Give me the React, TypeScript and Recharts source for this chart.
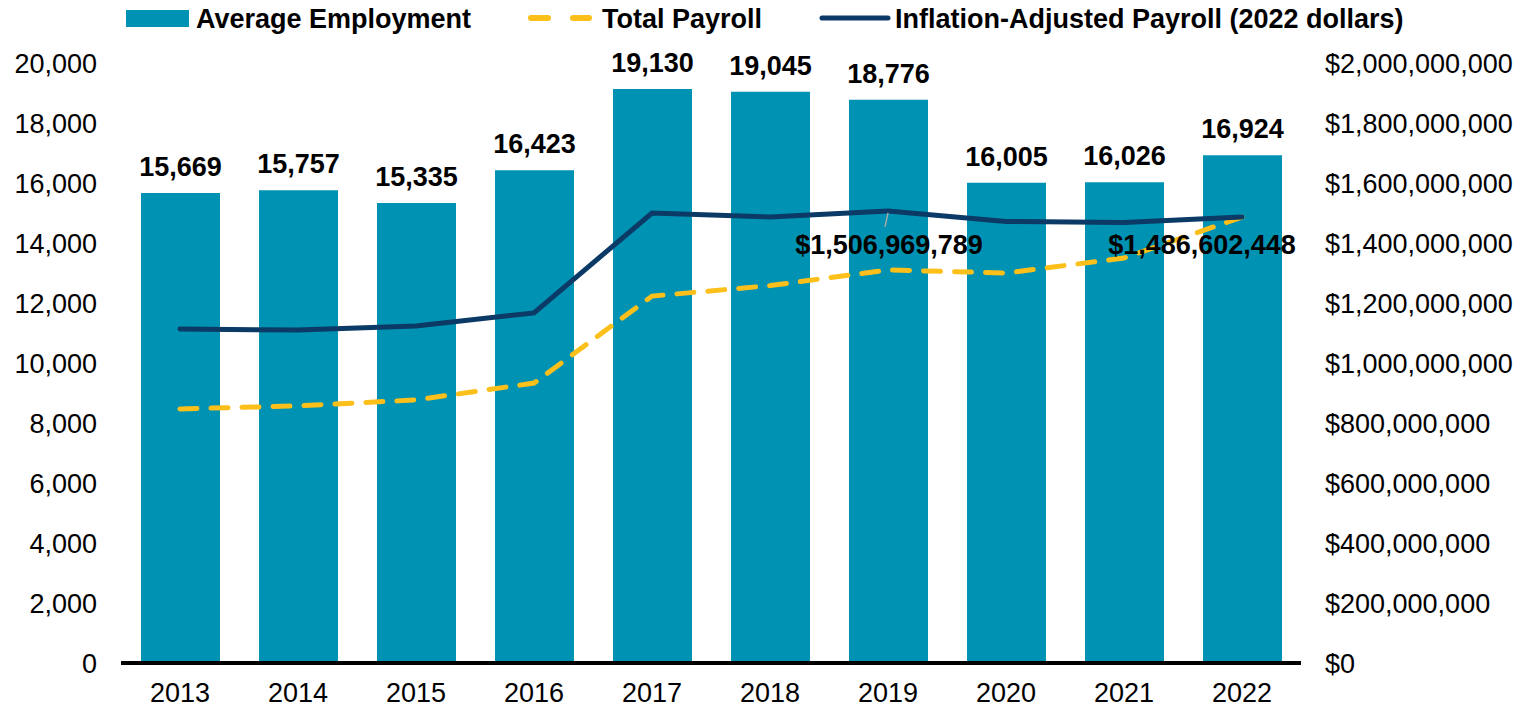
import React from 'react';
import { Bar, ComposedChart, LabelList, Line, XAxis, YAxis } from 'recharts';

const years = ['2013', '2014', '2015', '2016', '2017', '2018', '2019', '2020', '2021', '2022'];
const avgEmployment = [15669, 15757, 15335, 16423, 19130, 19045, 18776, 16005, 16026, 16924];
const totalPayroll = [847e6, 857e6, 877e6, 933e6, 1223e6, 1258e6, 1310e6, 1300e6, 1350e6, 1486602448];
const adjustedPayroll = [1113e6, 1110e6, 1123e6, 1167e6, 1500e6, 1487e6, 1506969789, 1472e6, 1468e6, 1486602448];
const leftTicks = [0, 2000, 4000, 6000, 8000, 10000, 12000, 14000, 16000, 18000, 20000];
const rightTicks = [0, 2e8, 4e8, 6e8, 8e8, 1e9, 1.2e9, 1.4e9, 1.6e9, 1.8e9, 2e9];

const data = years.map((year, i) => ({
  year,
  employment: avgEmployment[i],
  total: totalPayroll[i],
  adjusted: adjustedPayroll[i],
}));

const FONT = '"Liberation Sans", Arial, sans-serif';
const TEAL = '#0092B3';
const NAVY = '#0B3A66';
const GOLD = '#FDBF1A';

const fmt = (v: number) => v.toLocaleString('en-US');
const money = (v: number) => '$' + v.toLocaleString('en-US');

const BarLabel = (props: any) => {
  const { x, y, width, value } = props;
  return (
    <text x={x + width / 2} y={y - 17} textAnchor="middle" fontFamily={FONT} fontSize={27} fontWeight="bold" fill="#000">
      {fmt(value)}
    </text>
  );
};

// which point of which line gets a callout, and where the text sits
const makeLineLabel = (showIndex: number, dx: number, baseline: number, leader: boolean) => (props: any) => {
  const { x, y, value, index } = props;
  if (index !== showIndex) return null;
  return (
    <g>
      {leader && <line x1={x} y1={y + 2} x2={x - 3} y2={y + 16} stroke="#A6A6A6" strokeWidth={1.5} />}
      <text x={x + dx} y={baseline} textAnchor="middle" fontFamily={FONT} fontSize={27} fontWeight="bold" fill="#000">
        {money(value)}
      </text>
    </g>
  );
};

const tickStyle = { fontFamily: FONT, fontSize: 27, fill: '#000' };

const LegendBar = () => (
  <svg width={1527} height={40} style={{ position: 'absolute', left: 0, top: 0 }}>
    <rect x={126} y={10} width={63} height={17} fill={TEAL} />
    <text x={196} y={28} fontFamily={FONT} fontSize={27} fontWeight="bold" fill="#000">Average Employment</text>
    <line x1={531} y1={18} x2={548} y2={18} stroke={GOLD} strokeWidth={6} strokeLinecap="round" />
    <line x1={573} y1={18} x2={589} y2={18} stroke={GOLD} strokeWidth={6} strokeLinecap="round" />
    <text x={602} y={28} fontFamily={FONT} fontSize={27} fontWeight="bold" fill="#000">Total Payroll</text>
    <line x1={822} y1={18} x2={888} y2={18} stroke={NAVY} strokeWidth={5} strokeLinecap="round" />
    <text x={895} y={28} fontFamily={FONT} fontSize={27} fontWeight="bold" fill="#000">Inflation-Adjusted Payroll (2022 dollars)</text>
  </svg>
);

export default function App() {
  return (
    <div style={{ position: 'absolute', left: 0, top: 0, width: 1527, height: 709, background: '#fff' }}>
      <ComposedChart width={1527} height={709} data={data} margin={{ top: 63, right: 0, bottom: 0, left: 0 }}>
        <XAxis
          dataKey="year"
          height={46}
          tickSize={0}
          tickMargin={20}
          tickLine={false}
          axisLine={{ stroke: '#000', strokeWidth: 4 }}
          tick={tickStyle}
        />
        <YAxis
          yAxisId="left"
          width={121}
          domain={[0, 20000]}
          ticks={leftTicks}
          tickFormatter={fmt}
          tickSize={0}
          tickMargin={24}
          axisLine={false}
          tickLine={false}
          tick={tickStyle}
          interval={0}
        />
        <YAxis
          yAxisId="right"
          orientation="right"
          width={226}
          domain={[0, 2e9]}
          ticks={rightTicks}
          tickFormatter={money}
          tickSize={0}
          tickMargin={24}
          axisLine={false}
          tickLine={false}
          tick={{ ...tickStyle, textAnchor: 'start' }}
          interval={0}
        />
        <Bar yAxisId="left" dataKey="employment" fill={TEAL} barSize={79} isAnimationActive={false}>
          <LabelList dataKey="employment" content={BarLabel} />
        </Bar>
        <Line
          yAxisId="right"
          dataKey="total"
          stroke={GOLD}
          strokeWidth={5}
          strokeDasharray="17 14"
          strokeLinecap="round"
          dot={false}
          type="linear"
          isAnimationActive={false}
        >
          <LabelList dataKey="total" content={makeLineLabel(9, -40, 254, false)} />
        </Line>
        <Line
          yAxisId="right"
          dataKey="adjusted"
          stroke={NAVY}
          strokeWidth={5}
          strokeLinecap="round"
          dot={false}
          type="linear"
          isAnimationActive={false}
        >
          <LabelList dataKey="adjusted" content={makeLineLabel(6, 1, 254, true)} />
        </Line>
      </ComposedChart>
      <LegendBar />
    </div>
  );
}
